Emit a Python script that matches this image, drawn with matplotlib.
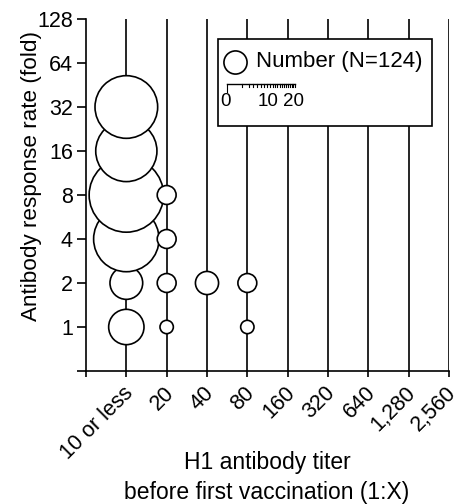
import numpy as np
import matplotlib
matplotlib.use("Agg")
import matplotlib.pyplot as plt
from matplotlib.patches import Rectangle
from matplotlib.transforms import ScaledTranslation

plt.rcParams['font.family'] = ['Liberation Sans', 'DejaVu Sans']

# Data
x_labels = ['', '10 or less', '20', '40', '80', '160', '320', '640', '1,280', '2,560']
y_ticks = [0.5, 1, 2, 4, 8, 16, 32, 64, 128]
y_tick_labels = ['', '1', '2', '4', '8', '16', '32', '64', '128']
bubble_col = [1, 1, 1, 1, 1, 1, 2, 2, 2, 2, 3, 4, 4]
bubble_fold = [1, 2, 4, 8, 16, 32, 1, 2, 4, 8, 2, 1, 2]
bubble_count = [7, 6, 24, 31, 21, 22, 1, 2, 2, 2, 3, 1, 2]
N_total = 124
scale_ticks = list(range(0, 21))
scale_labels = [0, 10, 20]

SIZE_PER = 92.5  # points^2 per subject

fig = plt.figure(figsize=(4.59, 5.04), dpi=100)
ax = fig.add_axes([86/459, 1-371/504, 363/459, 352/504])

ax.set_yscale('log', base=2)
ax.set_ylim(0.5, 128)
ax.set_xlim(0, 9)

for xi in range(1, 10):
    ax.axvline(xi, color='black', lw=1.2, zorder=1)

ax.scatter(bubble_col, bubble_fold, s=np.array(bubble_count) * SIZE_PER,
           facecolor='white', edgecolor='black', linewidth=1.2, zorder=3)

ax.tick_params(axis='y', length=6.5, width=1.2, labelsize=15.5, pad=3)
ax.tick_params(axis='x', length=4.5, width=1.2, labelsize=15.5, pad=9)
ax.set_yticks(y_ticks)
ax.set_yticklabels(y_tick_labels, fontsize=15.5)
ax.yaxis.set_minor_locator(matplotlib.ticker.NullLocator())
ax.set_xticks(range(10))
ax.set_xticklabels(x_labels, rotation=45, ha='right', va='center',
                   rotation_mode='anchor', fontsize=15.5)
offset = ScaledTranslation(4/100, 0, fig.dpi_scale_trans)
for lab in ax.get_xticklabels():
    lab.set_transform(lab.get_transform() + offset)

for s in ['top', 'right']:
    ax.spines[s].set_visible(False)
for s in ['left', 'bottom']:
    ax.spines[s].set_linewidth(1.2)

fig.text(32/459, 1-176/504, 'Antibody response rate (fold)', rotation=90,
         ha='center', va='center', fontsize=16.2)
fig.text(267/459, 1-463/504, 'H1 antibody titer', ha='center', va='center', fontsize=16.5)
fig.text(267/459, 1-492/504, 'before first vaccination (1:X)', ha='center', va='center', fontsize=16.5)

# Legend box
t = ax.transAxes
def fx(px):
    return (px - 86) / 363
def fy(py):
    return (371 - py) / 352

ax.add_patch(Rectangle((fx(218), fy(126)), fx(432) - fx(218), fy(39) - fy(126),
                       transform=t, facecolor='white', edgecolor='black', lw=1.2, zorder=5))
ax.scatter([fx(235)], [fy(62)], s=3 * SIZE_PER, transform=t, facecolor='white',
           edgecolor='black', linewidth=1.2, zorder=6, clip_on=False)
ax.text(fx(256), fy(62), f'Number (N={N_total})', transform=t, fontsize=16,
        ha='left', va='center', zorder=6)

# sqrt ruler
x0, L, yr = 227, 68, 84
ax.plot([fx(x0), fx(x0 + L)], [fy(yr), fy(yr)], transform=t, color='black', lw=1.0, zorder=6)
for n in scale_ticks:
    px = x0 + L * np.sqrt(n / 20)
    ln = 8 if n == 0 else 3
    ax.plot([fx(px), fx(px)], [fy(yr), fy(yr + ln)], transform=t, color='black', lw=0.8, zorder=6)
label_shift = {0: -1, 10: -7, 20: -2}
for n in scale_labels:
    px = x0 + L * np.sqrt(n / 20) + label_shift[n]
    ax.text(fx(px), fy(102), str(n), transform=t, fontsize=13.5,
            ha='center', va='center', zorder=6)

fig.savefig('out.png', dpi=100)
